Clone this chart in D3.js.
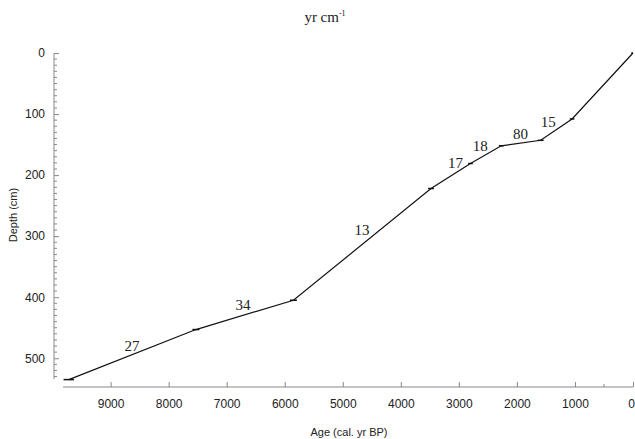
<!DOCTYPE html>
<html>
<head>
<meta charset="utf-8">
<script src="https://cdn.jsdelivr.net/npm/d3@7"></script>
<style>
  body { margin: 0; background: #fff; }
  svg { display: block; }
</style>
</head>
<body>
<div id="chart"></div>
<script>
// age-depth model points (cal. yr BP, cm)
var ages   = [0, 1050, 1590, 2270, 2800, 3480, 5850, 7530, 9720];
var depths = [0, 108, 143, 152, 181, 222, 405, 453, 535];
var ageErr = [30, 40, 50, 40, 40, 50, 60, 60, 90];

// accumulation rate labels (yr cm-1) and where they sit
var rateLabels = ["27", "34", "13", "17", "18", "80", "15"];
var rateAges   = [8630, 6720, 4670, 3060, 2630, 1940, 1460];
var rateDepths = [479, 413, 290, 179, 152, 133, 113];

var xTicks = [9000, 8000, 7000, 6000, 5000, 4000, 3000, 2000, 1000, 0];
var xMinor = [500];
var yTicks = [0, 100, 200, 300, 400, 500];

var w = 635, h = 439;
var svg = d3.select("#chart").append("svg")
  .attr("width", w)
  .attr("height", h);

var x = d3.scaleLinear().domain([9820, 0]).range([63, 633]);
var y = d3.scaleLinear().domain([0, 534]).range([53, 379]);
var axisCol = "#888";

// y axis (ticks inside)
var yAxis = d3.axisLeft(y).tickValues(yTicks).tickSize(-5).tickPadding(9);
var gy = svg.append("g").attr("transform", "translate(54,0)").call(yAxis);
gy.select(".domain").remove();
gy.append("line").attr("y1", y(0)).attr("y2", y(534)).attr("stroke", axisCol);
gy.selectAll(".tick line").attr("stroke", axisCol);
gy.selectAll("text").attr("font-family", "Liberation Sans, Arial, sans-serif").attr("font-size", 12).attr("fill", "#222");
gy.selectAll(".minor").data(d3.range(10, 535, 10).filter(function(d){ return d % 100 != 0; }))
  .enter().append("line")
  .attr("x1", 0).attr("x2", 3)
  .attr("y1", function(d){ return y(d); }).attr("y2", function(d){ return y(d); })
  .attr("stroke", axisCol);

// x axis (ticks inside)
var xAxis = d3.axisBottom(x).tickValues(xTicks).tickSize(-5).tickPadding(12).tickFormat(d3.format("d"));
var gx = svg.append("g").attr("transform", "translate(0,387)").call(xAxis);
gx.select(".domain").remove();
gx.append("line").attr("x1", x(9820)).attr("x2", x(0)).attr("stroke", axisCol);
gx.selectAll(".tick line").attr("stroke", axisCol);
gx.selectAll("text").attr("font-family", "Liberation Sans, Arial, sans-serif").attr("font-size", 12).attr("fill", "#222");
// keep the last label inside the window
gx.selectAll(".tick text").filter(function(d){ return d === 0; }).attr("dx", -2);
gx.selectAll(".minor").data(xMinor).enter().append("line")
  .attr("x1", function(d){ return x(d); }).attr("x2", function(d){ return x(d); })
  .attr("y1", 0).attr("y2", -3)
  .attr("stroke", axisCol);

// axis titles
svg.append("text")
  .attr("transform", "translate(17,215) rotate(-90)")
  .attr("text-anchor", "middle")
  .attr("font-family", "Liberation Sans, Arial, sans-serif")
  .attr("font-size", 11)
  .attr("fill", "#222")
  .text("Depth (cm)");
svg.append("text")
  .attr("x", 349).attr("y", 436)
  .attr("text-anchor", "middle")
  .attr("font-family", "Liberation Sans, Arial, sans-serif")
  .attr("font-size", 11)
  .attr("fill", "#222")
  .text("Age (cal. yr BP)");

// title
var title = svg.append("text")
  .attr("x", 325).attr("y", 22)
  .attr("text-anchor", "middle")
  .attr("font-family", "Liberation Serif, Times New Roman, serif")
  .attr("font-size", 15)
  .attr("fill", "#222");
title.append("tspan").text("yr cm");
title.append("tspan").attr("dy", -6).attr("font-size", 8).text("-1");

// age-depth line
var pts = ages.map(function(a, i){ return [a, depths[i], ageErr[i]]; });
var line = d3.line()
  .x(function(d){ return x(d[0]); })
  .y(function(d){ return y(d[1]); });
svg.append("path")
  .datum(pts)
  .attr("d", line)
  .attr("fill", "none")
  .attr("stroke", "#111")
  .attr("stroke-width", 1.2);

// error bars
svg.selectAll(".err").data(pts).enter().append("line")
  .attr("x1", function(d){ return x(d[0] + d[2]); })
  .attr("x2", function(d){ return x(Math.max(0, d[0] - d[2])); })
  .attr("y1", function(d){ return y(d[1]); })
  .attr("y2", function(d){ return y(d[1]); })
  .attr("stroke", "#111")
  .attr("stroke-width", 1.5);

// rate labels
svg.selectAll(".rate").data(rateLabels).enter().append("text")
  .attr("x", function(d, i){ return x(rateAges[i]); })
  .attr("y", function(d, i){ return y(rateDepths[i]); })
  .attr("dy", "0.35em")
  .attr("text-anchor", "middle")
  .attr("font-family", "Liberation Serif, Times New Roman, serif")
  .attr("font-size", 15)
  .attr("fill", "#222")
  .text(function(d){ return d; });
</script>
</body>
</html>
